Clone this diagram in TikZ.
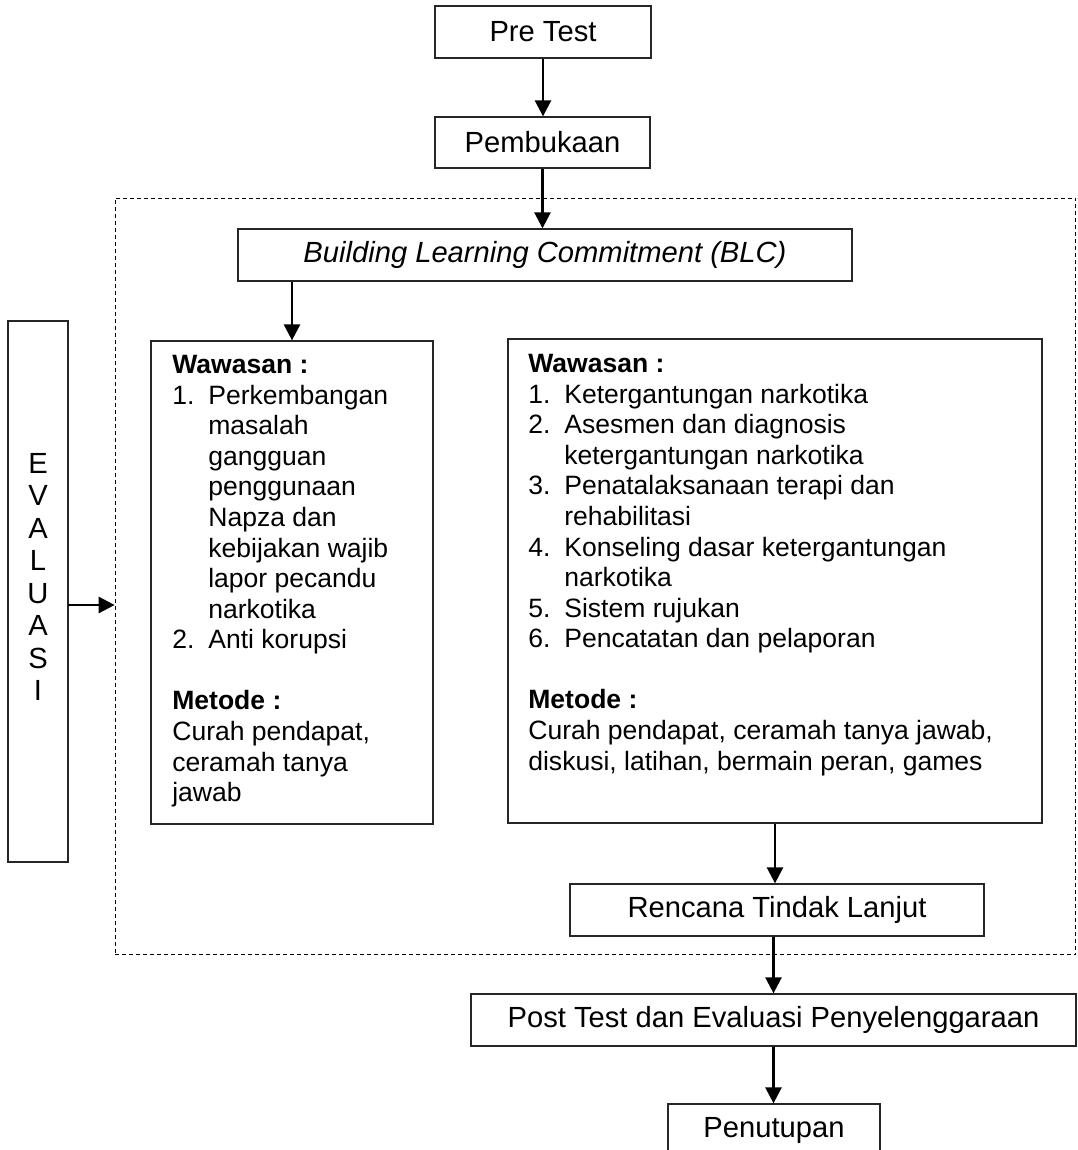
\documentclass[tikz,border=0pt]{standalone}
\usepackage{fontspec}
\setmainfont{Liberation Sans}
\usetikzlibrary{arrows.meta}

\newcommand{\numlab}[1]{\makebox[0.72cm][l]{#1}}
\newcommand{\indt}{\hspace*{0.72cm}}

\begin{document}
\begin{tikzpicture}[x=0.02cm, y=-0.02cm,
  >={Triangle[length=0.32cm, width=0.32cm]},
  box/.style={draw=black!85, line width=0.75pt, inner sep=0pt,
    font=\fontsize{16.6}{18.5}\selectfont},
  conn/.style={->, line width=1.5pt},
  txt/.style={inner sep=0pt, anchor=north west, align=left,
    font=\fontsize{15.1}{17.4}\selectfont}]

\useasboundingbox (0,0) rectangle (1078,1150);

%--- Bingkai putus-putus ---
\node[draw, dash pattern=on 0.08cm off 0.06cm, line width=0.5pt, inner sep=0pt,
  minimum width=19.22cm, minimum height=15.14cm] (zone) at (595.5,576.5) {};

%--- Kotak utama ---
\node[box, minimum width=4.32cm, minimum height=1.04cm] (pre) at (543,32) {Pre Test};
\node[box, minimum width=4.30cm, minimum height=1.02cm] (open) at (542.5,142.5) {Pembukaan};
\node[box, minimum width=12.28cm, minimum height=1.04cm] (blc) at (545,255)
  {\itshape Building Learning Commitment (BLC)};

\node[box, minimum width=5.64cm, minimum height=9.66cm] (lbox) at (292,582.5) {};
\node[box, minimum width=10.68cm, minimum height=9.68cm] (rbox) at (775,581) {};

\node[box, minimum width=8.28cm, minimum height=1.04cm] (rtl) at (777,910) {Rencana Tindak Lanjut};
\node[box, minimum width=12.10cm, minimum height=1.04cm] (post) at (773.5,1020)
  {Post Test dan Evaluasi Penyelenggaraan};
\node[box, minimum width=4.24cm, minimum height=1.04cm] (close) at (774,1130) {Penutupan};

%--- Evaluasi ---
\node[box, minimum width=1.20cm, minimum height=10.82cm] (eval) at (38,591.5) {};
\node[box, draw=none, align=center] (evaltxt) at (38,577) {E\\V\\A\\L\\U\\A\\S\\I};

%--- Isi kotak kiri ---
\node[txt] (ltext) at (172,355) {%
  \textbf{Wawasan :}\\
  \numlab{1.}Perkembangan\\
  \indt masalah\\
  \indt gangguan\\
  \indt penggunaan\\
  \indt Napza dan\\
  \indt kebijakan wajib\\
  \indt lapor pecandu\\
  \indt narkotika\\
  \numlab{2.}Anti korupsi\\[17.4pt]
  \textbf{Metode :}\\
  Curah pendapat,\\
  ceramah tanya\\
  jawab};

%--- Isi kotak kanan ---
\node[txt] (rtext) at (528,354) {%
  \textbf{Wawasan :}\\
  \numlab{1.}Ketergantungan narkotika\\
  \numlab{2.}Asesmen dan diagnosis\\
  \indt ketergantungan narkotika\\
  \numlab{3.}Penatalaksanaan terapi dan\\
  \indt rehabilitasi\\
  \numlab{4.}Konseling dasar ketergantungan\\
  \indt narkotika\\
  \numlab{5.}Sistem rujukan\\
  \numlab{6.}Pencatatan dan pelaporan\\[17.4pt]
  \textbf{Metode :}\\
  Curah pendapat, ceramah tanya jawab,\\
  diskusi, latihan, bermain peran, games};

%--- Panah ---
\draw[conn] (pre.south) -- (pre.south |- open.north);
\draw[conn] (open.south) -- (open.south |- blc.north);
\draw[conn] (lbox.north |- blc.south) -- (lbox.north);
\draw[conn] (rbox.south) -- (rbox.south |- rtl.north);
\draw[conn] (post.north |- rtl.south) -- (post.north);
\draw[conn] (post.south) -- (post.south |- close.north);

\coordinate (evarr) at (68,605);
\draw[conn] (evarr) -- (evarr -| zone.west);

\end{tikzpicture}
\end{document}
